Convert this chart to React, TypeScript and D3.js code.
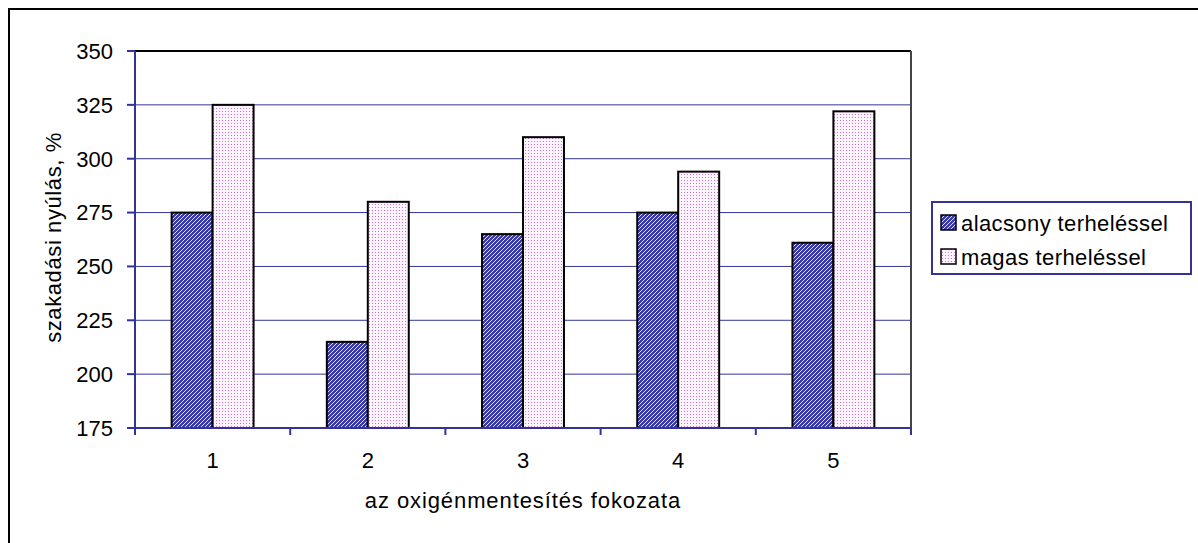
import React from "react";
import * as d3 from "d3";

const categories = ["1", "2", "3", "4", "5"];
const seriesNames = ["alacsony terheléssel", "magas terheléssel"];
const lowLoad = [275, 215, 265, 275, 261];
const highLoad = [325, 280, 310, 294, 322];
const yTicks = [175, 200, 225, 250, 275, 300, 325, 350];
const xTitle = "az oxigénmentesítés fokozata";
const yTitle = "szakadási nyúlás, %";

const W = 1198;
const H = 543;
const plot = { left: 135, top: 51, right: 911, bottom: 428 };
const FONT = "'Liberation Sans', Arial, sans-serif";
const NAVY = "#333399";
const FS = 22;

export default function App() {
  React.useEffect(() => {
    document.body.style.margin = "0";
  }, []);

  const x = d3.scaleBand<string>().domain(categories).range([plot.left, plot.right]).padding(0);
  const y = d3.scaleLinear().domain([175, 350]).range([plot.bottom, plot.top]);
  const bw = x.bandwidth();
  const barW = bw * 0.264;
  const series = [lowLoad, highLoad];
  const fills = ["url(#hatchBlue)", "url(#dotPink)"];

  return (
    <svg width={W} height={H} style={{ display: "block", position: "absolute", left: 0, top: 0 }} fontFamily={FONT}>
      <defs>
        <pattern id="hatchBlue" width="4" height="4" patternUnits="userSpaceOnUse">
          <rect width="4" height="4" fill="#3a3aa6" />
          <path d="M0,4 L4,0 M-1,1 L1,-1 M3,5 L5,3" stroke="#ffffff" strokeWidth="1" opacity="0.85" />
        </pattern>
        <pattern id="dotPink" width="3" height="3" patternUnits="userSpaceOnUse">
          <rect width="3" height="3" fill="#fcf4fc" />
          <rect x="0" y="0" width="1" height="1" fill="#d070d0" />
        </pattern>
      </defs>
      <rect x={0} y={0} width={W} height={H} fill="#fff" />
      {/* outer frame */}
      <rect x={9} y={9} width={W + 100} height={H + 100} fill="none" stroke="#000" strokeWidth={2} />

      {/* gridlines */}
      {yTicks.filter((t) => t !== 175 && t !== 350).map((t) => (
        <line key={t} x1={plot.left} x2={plot.right} y1={y(t)} y2={y(t)} stroke={NAVY} strokeWidth={1} />
      ))}
      {/* plot border top/right */}
      <line x1={plot.left} x2={plot.right} y1={plot.top} y2={plot.top} stroke="#000" strokeWidth={2} />
      <line x1={plot.right} x2={plot.right} y1={plot.top} y2={plot.bottom} stroke="#444" strokeWidth={2} />

      {/* bars */}
      {categories.map((c, i) => {
        const cx = (x(c) as number) + bw / 2;
        return series.map((s, j) => (
          <rect
            key={c + j}
            x={cx - barW + j * barW}
            y={y(s[i])}
            width={barW}
            height={plot.bottom - y(s[i])}
            fill={fills[j]}
            stroke="#000"
            strokeWidth={2}
          />
        ));
      })}

      {/* y axis */}
      <line x1={plot.left} x2={plot.left} y1={plot.top} y2={plot.bottom} stroke={NAVY} strokeWidth={2} />
      {yTicks.map((t) => (
        <g key={t}>
          <line x1={plot.left - 8} x2={plot.left} y1={y(t)} y2={y(t)} stroke={NAVY} strokeWidth={2} />
          <text x={113} y={y(t)} dy="0.36em" textAnchor="end" fontSize={FS} fill="#000">
            {t}
          </text>
        </g>
      ))}
      {/* x axis */}
      <line x1={plot.left} x2={plot.right} y1={plot.bottom} y2={plot.bottom} stroke={NAVY} strokeWidth={2} />
      {categories.map((c) => (
        <line key={"t" + c} x1={x(c) as number} x2={x(c) as number} y1={plot.bottom} y2={plot.bottom + 7} stroke={NAVY} strokeWidth={2} />
      ))}
      <line x1={plot.right} x2={plot.right} y1={plot.bottom} y2={plot.bottom + 7} stroke={NAVY} strokeWidth={2} />
      {categories.map((c) => (
        <text key={"l" + c} x={(x(c) as number) + bw / 2} y={468} textAnchor="middle" fontSize={FS} fill="#000">
          {c}
        </text>
      ))}
      <text x={(plot.left + plot.right) / 2} y={508} textAnchor="middle" fontSize={FS} letterSpacing={0.9} fill="#000">
        {xTitle}
      </text>
      <text transform={`translate(61,${(plot.top + plot.bottom) / 2 - 2}) rotate(-90)`} textAnchor="middle" fontSize={FS} letterSpacing={0.6} fill="#000">
        {yTitle}
      </text>

      {/* legend */}
      <rect x={932} y={202} width={259} height={72} fill="#fff" stroke={NAVY} strokeWidth={2} />
      {seriesNames.map((n, j) => (
        <g key={n}>
          <rect x={941} y={215 + j * 34} width={15} height={15} fill={fills[j]} stroke="#000" strokeWidth={1.5} />
          <text x={961} y={231 + j * 34} fontSize={FS} letterSpacing={0.4} fill="#000">
            {n}
          </text>
        </g>
      ))}
    </svg>
  );
}
